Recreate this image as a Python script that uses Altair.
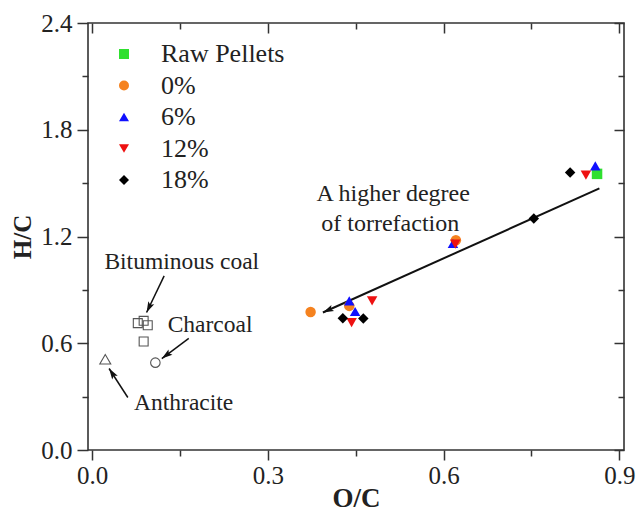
import math
import altair as alt
import pandas as pd

FONT = "Liberation Serif"

# ---------------- data ----------------
series_names = ["Raw Pellets", "0%", "6%", "12%", "18%"]
series_colors = ["#2fe02f", "#f5821f", "#1010ff", "#ee1111", "#000000"]
series_shapes = ["square", "circle", "triangle-up", "triangle-down", "diamond"]

raw_x = [0.862]
raw_y = [1.552]
p0_x = [0.621, 0.439, 0.373]
p0_y = [1.179, 0.810, 0.776]
p6_x = [0.859, 0.616, 0.439, 0.449]
p6_y = [1.597, 1.161, 0.838, 0.778]
p12_x = [0.843, 0.620, 0.478, 0.443]
p12_y = [1.545, 1.157, 0.838, 0.716]
p18_x = [0.816, 0.754, 0.428, 0.463]
p18_y = [1.560, 1.301, 0.741, 0.739]

# reference fuels (open grey markers)
coal_x = [0.078, 0.088, 0.095, 0.088]
coal_y = [0.713, 0.726, 0.701, 0.610]
charcoal_x = [0.108]
charcoal_y = [0.491]
anthracite_x = [0.0225]
anthracite_y = [0.510]

# arrows: start -> tip
arrow_x1 = [0.866, 0.123, 0.165, 0.061]
arrow_y1 = [1.470, 0.979, 0.627, 0.295]
arrow_x2 = [0.394, 0.093, 0.119, 0.029]
arrow_y2 = [0.773, 0.773, 0.514, 0.458]
arrow_w = [2.0, 1.5, 1.5, 1.5]

# annotations
left_text = ["Bituminous coal", "Charcoal", "Anthracite"]
left_text_x = [0.021, 0.129, 0.0717]
left_text_y = [1.058, 0.700, 0.263]
center_text = ["A higher degree", "of torrefaction"]
center_text_x = [0.514, 0.509]
center_text_y = [1.437, 1.268]

x_major = [0.0, 0.3, 0.6, 0.9]
x_minor = [0.15, 0.45, 0.75]
y_major = [0.0, 0.6, 1.2, 1.8, 2.4]
y_minor = [0.3, 0.9, 1.5, 2.1]
x_domain = [-0.007, 0.908]
y_domain = [0.0, 2.4]

W, H = 536, 427

# ---------------- tables ----------------
rows = []
for name, xs_, ys_ in zip(series_names, [raw_x, p0_x, p6_x, p12_x, p18_x],
                          [raw_y, p0_y, p6_y, p12_y, p18_y]):
    for a, b in zip(xs_, ys_):
        rows.append({"x": a, "y": b, "series": name})
df = pd.DataFrame(rows)

ref_rows = []
for a, b in zip(coal_x, coal_y):
    ref_rows.append({"x": a, "y": b, "shape": "square"})
for a, b in zip(charcoal_x, charcoal_y):
    ref_rows.append({"x": a, "y": b, "shape": "circle"})
for a, b in zip(anthracite_x, anthracite_y):
    ref_rows.append({"x": a, "y": b, "shape": "triangle-up"})
ref_df = pd.DataFrame(ref_rows)

kx = W / (x_domain[1] - x_domain[0])
ky = H / (y_domain[1] - y_domain[0])
arr_rows = []
for x1, y1, x2, y2, w in zip(arrow_x1, arrow_y1, arrow_x2, arrow_y2, arrow_w):
    dxp = (x2 - x1) * kx
    dyp = -(y2 - y1) * ky
    ang = math.degrees(math.atan2(dxp, -dyp)) % 360
    arr_rows.append({"x1": x1, "y1": y1, "x2": x2, "y2": y2, "w": w, "ang": ang})
arr_df = pd.DataFrame(arr_rows)

lt_df = pd.DataFrame({"t": left_text, "x": left_text_x, "y": left_text_y})
ct_df = pd.DataFrame({"t": center_text, "x": center_text_x, "y": center_text_y})

xs = alt.Scale(domain=x_domain, nice=False, zero=False)
ys = alt.Scale(domain=y_domain, nice=False, zero=False)

TICK_C = "#333333"


def axis(orient, values, size, labels=False, offset=0, title=None, **extra):
    kw = dict(orient=orient, values=values, tickSize=size, tickWidth=1.5,
              tickColor=TICK_C, domain=False, grid=False, labels=labels,
              offset=offset, title=title)
    if labels:
        kw.update(format=".1f", labelFont=FONT, labelFontSize=25, labelColor="#222222",
                  labelFlush=False, labelOverlap=False,
                  titleFont=FONT, titleFontWeight="bold", titleColor="#222222")
    kw.update(extra)
    return alt.Axis(**kw)


ax_bottom = axis("bottom", x_major, 10, labels=True, title="O/C",
                 labelPadding=3, titleFontSize=27, titleBaseline="bottom", titleY=62)
ax_left = axis("left", y_major, 11, labels=True, title="H/C",
               labelPadding=5, titleFontSize=25, titlePadding=5)

legend = alt.Legend(title=None, orient="none", legendX=23, legendY=18,
                    labelFont=FONT, labelFontSize=26, labelColor="#222222",
                    symbolSize=100, labelOffset=24, rowPadding=5.5)

points = alt.Chart(df).mark_point(filled=True, opacity=1, size=110).encode(
    x=alt.X("x:Q", scale=xs, axis=ax_bottom),
    y=alt.Y("y:Q", scale=ys, axis=ax_left),
    color=alt.Color("series:N", scale=alt.Scale(domain=series_names, range=series_colors), legend=legend),
    shape=alt.Shape("series:N", scale=alt.Scale(domain=series_names, range=series_shapes), legend=legend),
)

minor_axes = alt.Chart(df).mark_point(opacity=0).encode(
    x=alt.X("x:Q", scale=xs, axis=axis("bottom", x_minor, 6)),
    y=alt.Y("y:Q", scale=ys, axis=axis("left", y_minor, 6)),
)
top_right_major = alt.Chart(df).mark_point(opacity=0).encode(
    x=alt.X("x:Q", scale=xs, axis=axis("top", x_major, 10, offset=-10)),
    y=alt.Y("y:Q", scale=ys, axis=axis("right", y_major, 10, offset=-10)),
)
top_right_minor = alt.Chart(df).mark_point(opacity=0).encode(
    x=alt.X("x:Q", scale=xs, axis=axis("top", x_minor, 6, offset=-6)),
    y=alt.Y("y:Q", scale=ys, axis=axis("right", y_minor, 6, offset=-6)),
)


def ref_layer(shape, size):
    d = ref_df[ref_df["shape"] == shape]
    return alt.Chart(d).mark_point(filled=False, color="#555555", strokeWidth=1.1,
                                   opacity=1, shape=shape, size=size).encode(
        x=alt.X("x:Q", scale=xs, axis=None),
        y=alt.Y("y:Q", scale=ys, axis=None),
    )


refs = [ref_layer("square", 80), ref_layer("circle", 90), ref_layer("triangle-up", 120)]

arrow_lines = alt.Chart(arr_df).mark_rule(color="#111111").encode(
    x=alt.X("x1:Q", scale=xs, axis=None),
    y=alt.Y("y1:Q", scale=ys, axis=None),
    x2="x2:Q",
    y2="y2:Q",
    strokeWidth=alt.StrokeWidth("w:Q", scale=None, legend=None),
)
ARROW_PATH = "M0,0L-0.38,1.25L0,1.0L0.38,1.25Z"
arrow_heads = alt.Chart(arr_df).mark_point(shape=ARROW_PATH, filled=True, color="#111111",
                                           size=300, opacity=1).encode(
    x=alt.X("x2:Q", scale=xs, axis=None),
    y=alt.Y("y2:Q", scale=ys, axis=None),
    angle=alt.Angle("ang:Q", scale=None),
)

ltext = alt.Chart(lt_df).mark_text(align="left", baseline="middle", font=FONT,
                                   fontSize=23.5, color="#222222").encode(
    x=alt.X("x:Q", scale=xs, axis=None),
    y=alt.Y("y:Q", scale=ys, axis=None),
    text="t:N",
)
ctext = alt.Chart(ct_df).mark_text(align="center", baseline="middle", font=FONT,
                                   fontSize=24, color="#222222").encode(
    x=alt.X("x:Q", scale=xs, axis=None),
    y=alt.Y("y:Q", scale=ys, axis=None),
    text="t:N",
)

chart = alt.layer(
    minor_axes, top_right_major, top_right_minor,
    arrow_lines, arrow_heads, *refs, ltext, ctext, points,
).resolve_axis(x="independent", y="independent").properties(
    width=W, height=H,
    autosize=alt.AutoSizeParams(type="none"),
    padding={"left": 80, "top": 15, "right": 12, "bottom": 63},
).configure_view(stroke="#333333", strokeWidth=1.6)

chart.save("out.html", embed_options={"renderer": "svg", "actions": False})
